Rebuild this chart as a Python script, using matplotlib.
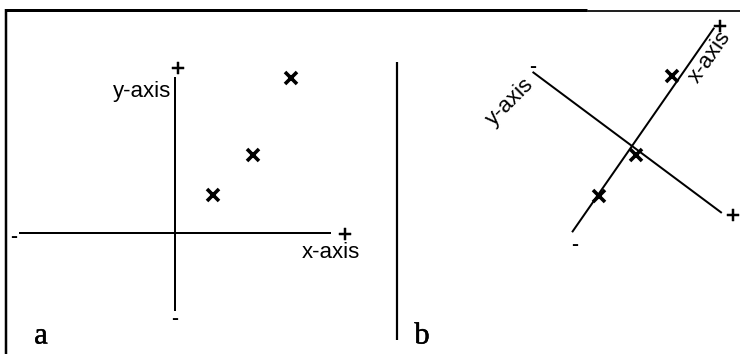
import matplotlib
matplotlib.use("Agg")
import matplotlib.pyplot as plt
from matplotlib.transforms import Affine2D
import matplotlib.patheffects as pe
import numpy as np

# ---- data -----------------------------------------------------------
# panel a: original coordinates
pts_a_x = [38, 78, 116]
pts_a_y = [38, 78, 155]
axis_a_x = [-155, 155]
axis_a_y = [-77, 155]

# panel b: the same points in the rotated frame
pts_b_x = [-60, -5, 80]
pts_b_y = [2, 9, -7]
axis_b_x = [-104, 143]
axis_b_y = [-123, 111]

panel_labels = ["a", "b"]
axis_names = ["x-axis", "y-axis"]

# ---- figure ---------------------------------------------------------
W, H = 740, 354
fig = plt.figure(figsize=(W / 100, H / 100), dpi=100)
ax = fig.add_axes([0, 0, 1, 1])
ax.set_xlim(0, W)
ax.set_ylim(H, 0)
ax.axis("off")

PX = 72 / 100  # points per pixel
sans = ["Liberation Sans", "DejaVu Sans"]
serif = ["Liberation Serif", "DejaVu Serif"]
lw_axis = 2 * PX
mk = dict(marker="x", linestyle="none", color="black",
          markersize=8, markeredgewidth=3 * PX * 1.2)
name_kw = dict(fontsize=16, family=sans)
plus_kw = dict(fontsize=17, family=sans, ha="center", va="center",
               path_effects=[pe.withStroke(linewidth=0.35, foreground="black")])
minus_kw = dict(fontsize=15, family=sans, weight="bold", ha="center", va="center")
panel_kw = dict(fontsize=22, family=serif, ha="center", va="center",
                path_effects=[pe.withStroke(linewidth=0.35, foreground="black")])

# frame
ax.plot([6, 6], [9, H], color="black", lw=2.5 * PX, clip_on=False,
        solid_capstyle="butt")
ax.plot([5, 587], [10, 10], color="black", lw=3 * PX, solid_capstyle="butt")
ax.plot([587, W], [11, 11], color="#222222", lw=2 * PX, solid_capstyle="butt")
# divider between panels
ax.plot([397, 397], [62, 340], color="black", lw=2.2 * PX, solid_capstyle="butt")

# ---- panel a --------------------------------------------------------
ta = Affine2D().scale(1, -1).translate(175, 233) + ax.transData
ax.plot(axis_a_x, [0, 0], color="black", lw=lw_axis, transform=ta)
ax.plot([0, 0], axis_a_y, color="black", lw=lw_axis, transform=ta)
ax.plot(pts_a_x, pts_a_y, transform=ta, **mk)

ax.text(14, 236, "-", **minus_kw)
ax.text(345, 236, "+", **plus_kw)
ax.text(331, 252, axis_names[0], ha="center", va="center", **name_kw)
ax.text(178, 70, "+", **plus_kw)
ax.text(171, 92, axis_names[1], ha="right", va="center", **name_kw)
ax.text(175, 319, "-", **minus_kw)
ax.text(41, 336, panel_labels[0], **panel_kw)

# ---- panel b --------------------------------------------------------
ux, vy = np.radians(55.2), np.radians(-36.7)
tb = Affine2D.from_values(np.cos(ux), -np.sin(ux), np.cos(vy), -np.sin(vy),
                          632, 146) + ax.transData
ax.plot(axis_b_x, [0, 0], color="black", lw=lw_axis, transform=tb)
ax.plot([0, 0], axis_b_y, color="black", lw=lw_axis, transform=tb)
ax.plot(pts_b_x, pts_b_y, transform=tb, **mk)

ax.text(575, 244, "-", **minus_kw)
ax.text(720, 28, "+", **plus_kw)
ax.text(710, 57, axis_names[0], ha="center", va="center",
        rotation=55, rotation_mode="anchor", **name_kw)
ax.text(533, 67, "-", **minus_kw)
ax.text(510, 102, axis_names[1], ha="center", va="center",
        rotation=45, rotation_mode="anchor", **name_kw)
ax.text(733, 217, "+", **plus_kw)
ax.text(422, 336, panel_labels[1], **panel_kw)

fig.savefig("out.png", dpi=100)
